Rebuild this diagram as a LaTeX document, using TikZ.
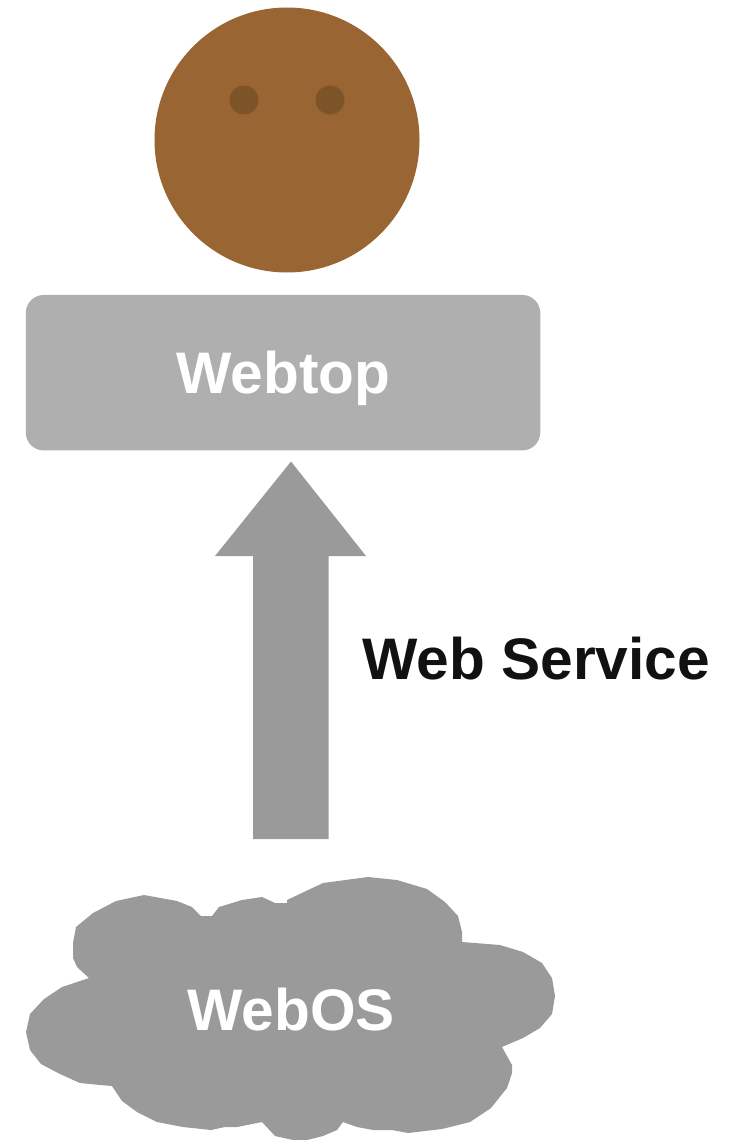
\documentclass[tikz,border=0pt]{standalone}
\usepackage{fontspec}
\setmainfont{Liberation Sans}
\definecolor{skin}{HTML}{996633}
\definecolor{eyec}{HTML}{7D5428}
\definecolor{boxc}{HTML}{AFAFAF}
\definecolor{darkc}{HTML}{9A9A9A}
\definecolor{inkc}{HTML}{111111}
\tikzset{
  label text/.style={font=\fontsize{58.6}{60}\selectfont\bfseries,inner sep=0pt,anchor=base},
  eye/.style={circle,fill=eyec,minimum size=29pt,inner sep=0pt},
}
\begin{document}
\begin{tikzpicture}[x=1pt,y=-1pt]
\useasboundingbox (0,0) rectangle (730,1140);
\node[circle,fill=skin,minimum size=265pt,inner sep=0pt] (head) at (287,140) {};
\node[eye] (eyeL) at (244,100) {};
\node[eye] (eyeR) at (330,100) {};
\node[rectangle,rounded corners=18pt,fill=boxc,minimum width=514.5pt,minimum height=155.5pt,inner sep=0pt] (webtop) at (283,372.7) {};
\node[label text,text=white] (webtoplabel) at (283.5,393.5) {Webtop};
\fill[darkc] (291,461.5) -- (366,556) -- (328.5,556) -- (328.5,839) -- (253,839) -- (253,556) -- (215,556) -- cycle;
\node[label text,text=inkc] (service) at (536.3,679) {Web Service};
\fill[darkc] (144,895) -- (177,901) -- (192,907) -- (201,916) -- (212,916) -- (219,907) -- (242,900) -- (262,897) -- (275,903) -- (287,903) -- (287,900) -- (323,883) -- (368,877) -- (397,880) -- (427,889) -- (445,902) -- (458,916) -- (462,932) -- (462,942) -- (500,945) -- (523,952) -- (542,963) -- (552,978) -- (555,996) -- (552,1014) -- (540,1028) -- (523,1038) -- (502,1047) -- (512,1065) -- (512,1073) -- (507,1088) -- (491,1108) -- (470,1122) -- (442,1129) -- (408,1133) -- (392,1130) -- (373,1130) -- (357,1127) -- (343,1122) -- (337,1130) -- (323,1136) -- (307,1140) -- (293,1140) -- (275,1136) -- (262,1122) -- (237,1127) -- (225,1127) -- (211,1130) -- (183,1127) -- (157,1122) -- (137,1112) -- (122,1101) -- (112,1086) -- (100,1085) -- (80,1083) -- (60,1074) -- (41,1064) -- (30,1050) -- (26,1032) -- (30,1014) -- (44,999) -- (62,987) -- (89,978) -- (77,967) -- (73,958) -- (73,943) -- (76,927) -- (93,913) -- (116,901) -- cycle;
\node[label text,text=white] (webos) at (291,1030.5) {WebOS};
\end{tikzpicture}
\end{document}
